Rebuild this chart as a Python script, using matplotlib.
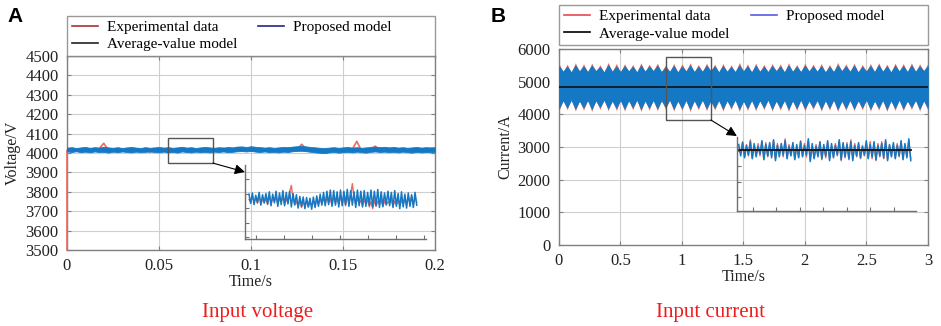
import matplotlib.pyplot as plt
import numpy as np
from matplotlib.lines import Line2D
from matplotlib.patches import Rectangle
from matplotlib.ticker import MaxNLocator

plt.rcParams['font.family'] = ['Liberation Serif', 'DejaVu Serif']

# ---------------- panel A : input voltage ----------------
volt_xticks = [0, 0.05, 0.1, 0.15, 0.2]
volt_xlabels = ['0', '0.05', '0.1', '0.15', '0.2']
volt_yticks = list(range(3500, 4501, 100))
volt_time = np.linspace(0, 0.2, 81)
volt_model_hi = [4028, 4030, 4026, 4029, 4031, 4027, 4030, 4028, 4032, 4029,
                 4027, 4030, 4026, 4029, 4031, 4028, 4026, 4030, 4027, 4029,
                 4031, 4028, 4030, 4027, 4029, 4032, 4028, 4030, 4026, 4029,
                 4031, 4029, 4027, 4030, 4028, 4031, 4029, 4033, 4034, 4031,
                 4035, 4032, 4030, 4028, 4030, 4027, 4029, 4031, 4030, 4033,
                 4035, 4036, 4034, 4031, 4029, 4027, 4026, 4028, 4030, 4027,
                 4029, 4031, 4028, 4030, 4027, 4029, 4031, 4033, 4030, 4032,
                 4029, 4031, 4028, 4030, 4027, 4029, 4031, 4028, 4030, 4029, 4030]
volt_model_lo = [4008, 4005, 4009, 4004, 4007, 4003, 4008, 4005, 4006, 4002,
                 4007, 4004, 4008, 4005, 4003, 4007, 4004, 4006, 4008, 4005,
                 4003, 4007, 4004, 4006, 4002, 4008, 4005, 4003, 4007, 4004,
                 4006, 4003, 4007, 4005, 4008, 4004, 4006, 4009, 4010, 4008,
                 4011, 4007, 4005, 4008, 4004, 4006, 4003, 4007, 4005, 4009,
                 4011, 4012, 4009, 4006, 4003, 4001, 4000, 4003, 4005, 4002,
                 4004, 4006, 4003, 4007, 4004, 4002, 4006, 4008, 4005, 4007,
                 4004, 4006, 4003, 4007, 4004, 4002, 4006, 4003, 4005, 4004, 4006]
# experimental record starts from 3500 V at t = 0 (first sample before the step)
volt_exp_time = np.concatenate([[0], volt_time])
volt_exp = [3500, 4015, 4012, 4020, 4008, 4024, 4015, 4010, 4022, 4050, 4014,
            4018, 4009, 4021, 4013, 4006, 4019, 4011, 4023, 4004, 4016,
            4012, 4020, 4001, 4017, 4010, 4022, 4008, 4015, 4019, 4007,
            4021, 4013, 4017, 4009, 4024, 4012, 4018, 4026, 4020, 4015,
            4028, 4014, 4019, 4010, 4022, 4012, 4018, 4008, 4020, 4026,
            4014, 4045, 4022, 4015, 4010, 4012, 4006, 4016, 4011, 4018,
            4013, 4008, 4019, 4060, 4012, 4017, 4021, 4035, 4015, 4020,
            4012, 4018, 4009, 4022, 4014, 4010, 4019, 4013, 4016, 4011, 4017]
volt_avg = 4016

# zoomed window of the voltage (0.055 s .. 0.079 s)
zoom_volt_time = np.linspace(0.055, 0.079, 100)
zoom_volt_model = [4024, 4008, 4026, 4006, 4022, 4010, 4027, 4005, 4023, 4009, 4025, 4007, 4028, 4004, 4024, 4009, 4029, 4003, 4026, 4006,
                   4030, 4004, 4027, 4007, 4029, 4002, 4025, 4006, 4023, 4000, 4020, 4003, 4019, 3999, 4018, 4002, 4017, 3998, 4019, 4001,
                   4021, 4003, 4024, 4005, 4027, 4004, 4029, 4006, 4031, 4003, 4030, 4005, 4028, 4002, 4031, 4004, 4029, 4006, 4032, 4003,
                   4030, 4005, 4028, 4001, 4031, 4004, 4029, 4002, 4030, 4003, 4027, 4005, 4031, 4002, 4029, 4004, 4032, 4001, 4028, 4003,
                   4026, 4006, 4029, 4004, 4027, 4001, 4030, 4003, 4025, 3999, 4028, 4002, 4024, 4000, 4026, 4003, 4023, 4001, 4027, 4005]
zoom_volt_exp = [4015, 4010, 4019, 4012, 4016, 4008, 4018, 4011, 4014, 4009, 4017, 4006, 4020, 4010, 4015, 4012, 4019, 4007, 4016, 4011,
                 4018, 4006, 4015, 4010, 4028, 4039, 4016, 4005, 4012, 4003, 4013, 4001, 4010, 4004, 4011, 4002, 4009, 4005, 4012, 4003,
                 4014, 4006, 4016, 4008, 4015, 4007, 4018, 4009, 4016, 4005, 4019, 4008, 4017, 4006, 4020, 4009, 4018, 4004, 4021, 4007,
                 4023, 4042, 4019, 4006, 4016, 4008, 4013, 4004, 4015, 4007, 4014, 4002, 4011, 3999, 4013, 4003, 4012, 4006, 4014, 4002,
                 4013, 4005, 4011, 4008, 4014, 4003, 4012, 4006, 4015, 4004, 4013, 4007, 4016, 4005, 4019, 4008, 4021, 4006, 4018, 4010]

# ---------------- panel B : input current ----------------
curr_xticks = [0, 0.5, 1, 1.5, 2, 2.5, 3]
curr_xlabels = ['0', '0.5', '1', '1.5', '2', '2.5', '3']
curr_yticks = list(range(0, 6001, 1000))
curr_time = np.linspace(0, 3, 91)
curr_model_hi = [5480, 5310, 5460, 5290, 5500, 5320, 5470, 5300, 5490, 5330,
                 5450, 5290, 5510, 5310, 5470, 5300, 5480, 5320, 5460, 5290,
                 5500, 5310, 5470, 5330, 5490, 5300, 5450, 5310, 5480, 5290,
                 5470, 5320, 5500, 5300, 5460, 5310, 5490, 5330, 5470, 5290,
                 5480, 5310, 5450, 5300, 5500, 5320, 5470, 5290, 5490, 5310,
                 5460, 5300, 5480, 5330, 5470, 5290, 5500, 5310, 5460, 5300,
                 5490, 5320, 5470, 5310, 5480, 5290, 5460, 5300, 5500, 5330,
                 5470, 5310, 5490, 5290, 5460, 5320, 5480, 5300, 5510, 5310,
                 5470, 5290, 5490, 5320, 5480, 5300, 5500, 5310, 5470, 5330, 5480]
curr_model_lo = [4190, 4430, 4220, 4450, 4180, 4420, 4210, 4440, 4170, 4430,
                 4230, 4450, 4190, 4420, 4200, 4440, 4180, 4430, 4220, 4450,
                 4170, 4420, 4210, 4440, 4190, 4430, 4230, 4450, 4180, 4420,
                 4200, 4440, 4170, 4430, 4220, 4450, 4190, 4420, 4210, 4440,
                 4180, 4430, 4230, 4450, 4170, 4420, 4200, 4440, 4190, 4430,
                 4220, 4450, 4180, 4420, 4210, 4440, 4170, 4430, 4200, 4450,
                 4190, 4420, 4230, 4440, 4180, 4430, 4210, 4450, 4170, 4420,
                 4200, 4440, 4190, 4430, 4220, 4450, 4180, 4420, 4210, 4440,
                 4170, 4430, 4200, 4450, 4190, 4420, 4230, 4440, 4180, 4430, 4200]
curr_exp_hi = [5560, 5300, 5540, 5280, 5580, 5310, 5550, 5290, 5570, 5320,
               5520, 5280, 5590, 5300, 5560, 5290, 5550, 5310, 5530, 5280,
               5580, 5300, 5540, 5320, 5570, 5290, 5520, 5300, 5560, 5280,
               5550, 5310, 5580, 5290, 5530, 5300, 5570, 5320, 5540, 5280,
               5560, 5300, 5520, 5290, 5590, 5310, 5550, 5280, 5570, 5300,
               5530, 5290, 5560, 5320, 5550, 5280, 5580, 5300, 5530, 5290,
               5570, 5310, 5540, 5300, 5560, 5280, 5530, 5290, 5590, 5320,
               5550, 5300, 5570, 5280, 5530, 5310, 5560, 5290, 5580, 5300,
               5540, 5280, 5570, 5310, 5560, 5290, 5580, 5300, 5550, 5320, 5560]
curr_exp_lo = [4110, 4440, 4140, 4460, 4100, 4430, 4130, 4450, 4090, 4440,
               4150, 4460, 4110, 4430, 4120, 4450, 4100, 4440, 4140, 4460,
               4090, 4430, 4130, 4450, 4110, 4440, 4150, 4460, 4100, 4430,
               4120, 4450, 4090, 4440, 4140, 4460, 4110, 4430, 4130, 4450,
               4100, 4440, 4150, 4460, 4090, 4430, 4120, 4450, 4110, 4440,
               4140, 4460, 4100, 4430, 4130, 4450, 4090, 4440, 4120, 4460,
               4110, 4430, 4150, 4450, 4100, 4440, 4130, 4460, 4090, 4430,
               4120, 4450, 4110, 4440, 4140, 4460, 4100, 4430, 4130, 4450,
               4090, 4440, 4120, 4460, 4110, 4430, 4150, 4450, 4100, 4440, 4120]
curr_avg = 4850

# zoomed window of the current (0.87 s .. 1.236 s)
zoom_curr_time = np.linspace(0.87, 1.236, 90)
zoom_curr_model = [5150, 4550, 5250, 4450, 5100, 4600, 5300, 4400, 5200, 4500, 5050, 4650, 5350, 4350, 5150, 4550, 5250, 4450, 5400, 4300,
                   5100, 4500, 5200, 4600, 5350, 4400, 5050, 4550, 5250, 4350, 5150, 4450, 5300, 4500, 5100, 4600, 5450, 4250, 5200, 4400,
                   5050, 4500, 5300, 4400, 5150, 4550, 5350, 4300, 5200, 4450, 5100, 4600, 5400, 4350, 5250, 4500, 5150, 4400, 5300, 4300,
                   5100, 4550, 5250, 4450, 5050, 4600, 5350, 4400, 5150, 4500, 5300, 4350, 5100, 4550, 5200, 4450, 5400, 4300, 5150, 4500,
                   5250, 4400, 5100, 4550, 5350, 4350, 5200, 4450, 5450, 4300]
zoom_curr_exp = [5050, 4650, 5300, 4500, 5150, 4550, 5400, 4450, 5100, 4600, 5200, 4550, 5300, 4400, 5250, 4500, 5150, 4550, 5350, 4400,
                 5200, 4600, 5100, 4500, 5450, 4450, 5150, 4600, 5200, 4400, 5050, 4500, 5350, 4550, 5200, 4500, 5350, 4350, 5100, 4450,
                 5150, 4600, 5250, 4350, 5050, 4450, 5250, 4400, 5100, 4500, 5200, 4550, 5300, 4300, 5150, 4450, 5250, 4350, 5400, 4400,
                 5200, 4500, 5150, 4400, 5100, 4550, 5250, 4450, 5300, 4400, 5200, 4300, 5200, 4500, 5300, 4400, 5300, 4350, 5100, 4550,
                 5150, 4450, 5200, 4500, 5300, 4400, 5100, 4550, 5350, 4400]

RED = '#ec6a5e'
BLUE = '#1478c4'
GRAY = '#808080'


def style_axes(ax, xticks, xlabels, yticks, ylabel):
    ax.set_xlim(xticks[0], xticks[-1])
    ax.set_ylim(yticks[0], yticks[-1])
    ax.set_xticks(xticks)
    ax.set_xticklabels(xlabels)
    ax.set_yticks(yticks)
    ax.grid(True, color='#cfcfcf', lw=0.8)
    ax.set_axisbelow(True)
    for s in ax.spines.values():
        s.set_color(GRAY)
        s.set_linewidth(1)
    ax.tick_params(direction='in', length=3, color=GRAY, labelsize=12, top=True, right=True,
                   pad=6, labelcolor='#222222')
    ax.set_xlabel('Time/s', fontsize=11.5, labelpad=0, color='#222222')
    ax.set_ylabel(ylabel, fontsize=11.5, labelpad=3, color='#222222')


def add_legend(ax, colors, y0):
    handles = [Line2D([], [], color=colors[0], lw=1.2),
               Line2D([], [], color=colors[2], lw=1.2),
               Line2D([], [], color=colors[1], lw=1.2)]
    labels = ['Experimental data', 'Average-value model', 'Proposed model' + ' ' * 10]
    leg = ax.legend(handles, labels, loc='lower left', bbox_to_anchor=(0, y0, 1, 0.2),
                    mode='expand', ncol=2, borderaxespad=0, fontsize=11, frameon=True,
                    fancybox=False, edgecolor=GRAY, handlelength=1.7, labelspacing=0.25,
                    borderpad=0.3, handletextpad=0.6)
    leg.get_frame().set_linewidth(1)


def add_zoom(ax, bounds, xlim, ylim):
    ins = ax.inset_axes(bounds, transform=ax.transData)
    ins.set_xlim(xlim)
    ins.set_ylim(ylim)
    ins.patch.set_alpha(0)
    ins.spines['top'].set_visible(False)
    ins.spines['right'].set_visible(False)
    for side in ['left', 'bottom']:
        ins.spines[side].set_color('#707070')
        ins.spines[side].set_linewidth(1)
    ins.tick_params(direction='in', length=3, color='#707070', labelleft=False, labelbottom=False)
    ins.xaxis.set_major_locator(MaxNLocator(8))
    ins.yaxis.set_major_locator(MaxNLocator(6))
    return ins


fig = plt.figure(figsize=(9.41, 3.26), dpi=100)
axA = fig.add_axes([0.0712, 0.2331, 0.3911, 0.5951])
axB = fig.add_axes([0.594, 0.2485, 0.392, 0.601])

# ---- A ----
axA.plot(volt_time, np.full_like(volt_time, volt_avg), color='#111111', lw=1, zorder=2)
axA.plot(volt_exp_time, volt_exp, color=RED, lw=1.2, zorder=3, clip_on=False)
axA.fill_between(volt_time, volt_model_lo, volt_model_hi, color=BLUE, lw=0.6, edgecolor=BLUE, zorder=4)
style_axes(axA, volt_xticks, volt_xlabels, volt_yticks, 'Voltage/V')
add_legend(axA, ['#a83232', '#24248c', '#222222'], 1.0)

axA.add_patch(Rectangle((0.0549, 3948), 0.0244, 129, fill=False, ec='#555555', lw=1, zorder=6))
axA.annotate('', xy=(0.0967, 3902), xytext=(0.0793, 3948),
             arrowprops=dict(arrowstyle='-|>', color='black', lw=0.8, mutation_scale=15,
                             shrinkA=0, shrinkB=0), zorder=7)
insA = add_zoom(axA, [0.097, 3557, 0.098, 381], (0.0545, 0.0803), (3947, 4074))
insA.plot(zoom_volt_time, zoom_volt_exp, color=RED, lw=1)
insA.plot(zoom_volt_time, zoom_volt_model, color=BLUE, lw=1.1)

# ---- B ----
axB.fill_between(curr_time, curr_exp_lo, curr_exp_hi, color=RED, lw=0, zorder=2)
axB.fill_between(curr_time, curr_model_lo, curr_model_hi, color=BLUE, lw=0.5, edgecolor=BLUE, zorder=3)
axB.plot(curr_time, np.full_like(curr_time, curr_avg), color='#111111', lw=1.2, zorder=4)
style_axes(axB, curr_xticks, curr_xlabels, curr_yticks, 'Current/A')
add_legend(axB, ['#e8474f', '#5a5ae6', '#000000'], 1.02)

axB.add_patch(Rectangle((0.87, 3827), 0.366, 1928, fill=False, ec='#555555', lw=1, zorder=6))
axB.annotate('', xy=(1.447, 3337), xytext=(1.236, 3827),
             arrowprops=dict(arrowstyle='-|>', color='black', lw=0.8, mutation_scale=15,
                             shrinkA=0, shrinkB=0), zorder=7)
insB = add_zoom(axB, [1.447, 1040, 1.46, 2270], (0.866, 1.248), (1650, 5550))
insB.plot(zoom_curr_time, zoom_curr_exp, color=RED, lw=1)
insB.plot(zoom_curr_time, zoom_curr_model, color=BLUE, lw=1.1)
insB.plot(zoom_curr_time, np.full_like(zoom_curr_time, curr_avg), color='#111111', lw=1.3)

# panel letters and captions
fig.text(15 / 941, 1 - 16 / 326, 'A', fontsize=15, fontweight='bold', family='Liberation Sans',
         ha='center', va='center')
fig.text(498 / 941, 1 - 16 / 326, 'B', fontsize=15, fontweight='bold', family='Liberation Sans',
         ha='center', va='center')
fig.text(258 / 941, 1 - 313 / 326, 'Input voltage', color='#ee1c1c', fontsize=15,
         ha='center', va='center')
fig.text(711 / 941, 1 - 313 / 326, 'Input current', color='#ee1c1c', fontsize=15,
         ha='center', va='center')

fig.savefig('out.png', dpi=100, facecolor='white')
